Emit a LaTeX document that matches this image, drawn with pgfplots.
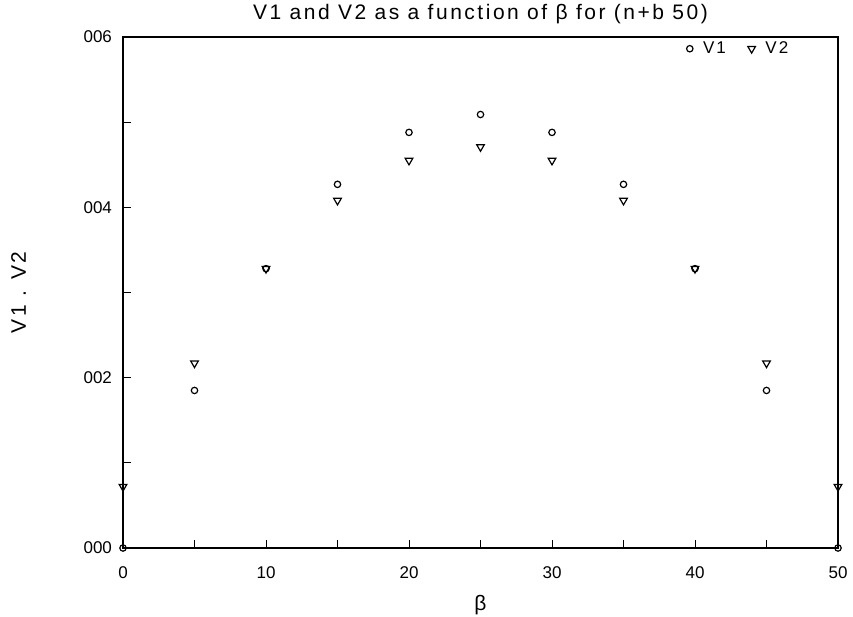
\documentclass[border=0pt]{standalone}
\usepackage{fontspec}
\setmainfont{Liberation Sans}
\newfontfamily\widefont[LetterSpace=12]{Liberation Sans}
\usepackage{pgfplots}
\usepackage{pgfplotstable}
\pgfplotsset{compat=1.18}

% beta, V1, V2
\pgfplotstableread{
b     V1       V2
0     0        0.00072
5     0.00185  0.00217
10    0.00328  0.00328
15    0.00427  0.00408
20    0.00488  0.00455
25    0.00509  0.00471
30    0.00488  0.00455
35    0.00427  0.00408
40    0.00328  0.00328
45    0.00185  0.00217
50    0        0.00072
}\vdata

\begin{document}
\begin{tikzpicture}
\begin{axis}[
    scale only axis,
    width=357.5pt, height=255.5pt,
    xmin=0, xmax=50,
    ymin=0, ymax=0.006,
    xtick={0,10,20,30,40,50},
    minor xtick={5,15,25,35,45},
    ytick={0,0.002,0.004,0.006},
    yticklabels={000,002,004,006},
    minor ytick={0.001,0.003,0.005},
    scaled y ticks=false,
    /pgf/number format/assume math mode=true,
    xtick pos=bottom, ytick pos=left,
    tick align=inside,
    major tick length=4pt, minor tick length=4pt,
    axis line style={line width=0.6pt},
    every tick/.style={black, line width=0.5pt},
    tick label style={font=\fontsize{8.5}{10}\selectfont},
    xticklabel style={yshift=-6pt},
    yticklabel style={xshift=-2pt},
    xlabel={β},
    ylabel={V1 . V2},
    label style={font=\widefont\fontsize{10.5}{12}\selectfont},
    xlabel style={yshift=-1pt},
    ylabel style={yshift=22pt},
    title={V1 and V2 as a function of β for (n+b 50)},
    title style={font=\widefont\fontsize{10.5}{12}\selectfont, yshift=-3pt},
    legend columns=2,
    legend style={at={(0.945,1.012)}, anchor=north east, draw=none, fill=none,
        font=\widefont\fontsize{8.5}{10}\selectfont, inner sep=3pt,
        /tikz/every odd column/.append style={column sep=3pt},
        /tikz/every even column/.append style={column sep=9pt}},
    legend image code/.code={\draw[#1] plot coordinates {(0.15cm,0cm)};},
]
\addplot[only marks, mark=o, mark size=1.6pt, black, line width=0.6pt] table[x=b, y=V1] {\vdata};
\addplot[only marks, mark=triangle, mark size=2.2pt, black, line width=0.6pt,
    mark options={rotate=180}] table[x=b, y=V2] {\vdata};
\legend{V1, V2}
\coordinate (ll) at (rel axis cs:0,0);
\coordinate (ur) at (rel axis cs:1,1);
\end{axis}
\pgfresetboundingbox
\path ([xshift=-61.5pt,yshift=-34pt]ll) rectangle ([xshift=7.5pt,yshift=18.5pt]ur);
\end{tikzpicture}
\end{document}
